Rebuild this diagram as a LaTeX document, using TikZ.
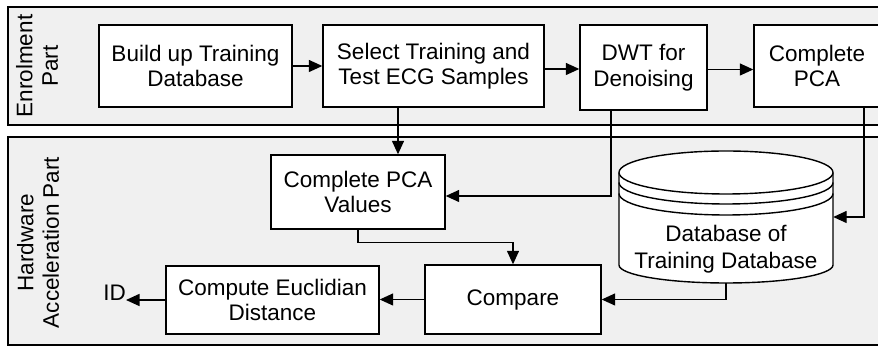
\documentclass[tikz,border=0pt]{standalone}
\usepackage{fontspec}
\setmainfont{Liberation Sans}
\usetikzlibrary{arrows.meta,calc}
\definecolor{panelgray}{HTML}{F0F0F0}
\begin{document}
\begin{tikzpicture}[x=1pt,y=1pt,
  font=\fontsize{22.5}{25.5}\selectfont,
  box/.style={draw, line width=1.4pt, fill=white, align=center, inner sep=0pt},
  panel/.style={draw, line width=1.6pt, fill=panelgray},
  conn/.style={line width=1.4pt, -{Triangle[length=13.5pt,width=12pt]}},
  lbl/.style={align=center, rotate=90, inner sep=0pt},
  cyl/.style={draw, line width=1.4pt}]
\useasboundingbox (0,0) rectangle (878,347);
\clip (0,0) rectangle (878,347);
% panels
\draw[panel] (8,222) rectangle (895,340);
\draw[panel] (8,2) rectangle (895,210);
\node[lbl] (enr) at (37,281) {Enrolment\\Part};
\node[lbl] (hw) at (38,104.5) {Hardware\\Acceleration Part};
% enrolment boxes
\node[box, minimum width=193, minimum height=82] (build) at (195.5,281) {Build up Training\\Database};
\node[box, minimum width=221, minimum height=82] (select) at (433.5,281) {Select Training and\\Test ECG Samples};
\node[box, minimum width=127, minimum height=85] (dwt) at (643.5,279.5) {DWT for\\Denoising};
\node[box, minimum width=126, minimum height=82] (cpca) at (817,281) {Complete\\PCA};
% hardware boxes
\node[box, minimum width=174, minimum height=74] (cpv) at (358,155) {Complete PCA\\Values};
\node[box, minimum width=176, minimum height=69] (cmp) at (513,47.5) {Compare};
\node[box, minimum width=213, minimum height=68] (euc) at (272.5,47) {Compute Euclidian\\Distance};
\node[inner sep=0pt, anchor=base east] (id) at (126,46) {ID};
% database cylinder
\path[cyl, fill=white] (619,174.5) -- (619,82)
  arc[start angle=180, end angle=360, x radius=107, y radius=18]
  -- (833,174.5)
  arc[start angle=0, end angle=180, x radius=107, y radius=21.5] -- cycle;
\draw[cyl] (619,174.5) arc[start angle=180, end angle=360, x radius=107, y radius=21.5];
\draw[cyl] (619,164.5) arc[start angle=180, end angle=360, x radius=107, y radius=21.5];
\draw[cyl] (619,153.5) arc[start angle=180, end angle=360, x radius=107, y radius=21.5];
\node[minimum width=214, minimum height=132, inner sep=0pt] (db) at (726,130) {};
\node[align=center, inner sep=0pt, font=\fontsize{22.5}{27}\selectfont] (dbtext) at (726,98) {Database of\\Training Database};
% helper coordinates
\coordinate (a1) at ($(select.east)+(0,-3)$);
\coordinate (a2) at ($(dwt.east)+(0,-2)$);
\coordinate (s1) at (398,0);
\coordinate (d1) at (611,0);
\coordinate (d2) at (0,151);
\coordinate (c1) at (864,0);
% connectors
\draw[conn] (build.east) -- (select.west);
\draw[conn] (a1) -- (a1 -| dwt.west);
\draw[conn] (a2) -- (a2 -| cpca.west);
\draw[conn] (select.south -| s1) -- (cpv.north -| s1);
\draw[conn] (dwt.south -| d1) |- (cpv.east |- d2);
\draw[conn] (cpca.south -| c1) |- (db.east);
\draw[conn] (cpv.south) -- ++(0,-13) -| (cmp.north);
\draw[conn] (db.south) |- (cmp.east);
\draw[conn] (cmp.west) -- (cmp.west -| euc.east);
\draw[conn] (euc.west) -- (euc.west -| id.east);
\end{tikzpicture}
\end{document}
